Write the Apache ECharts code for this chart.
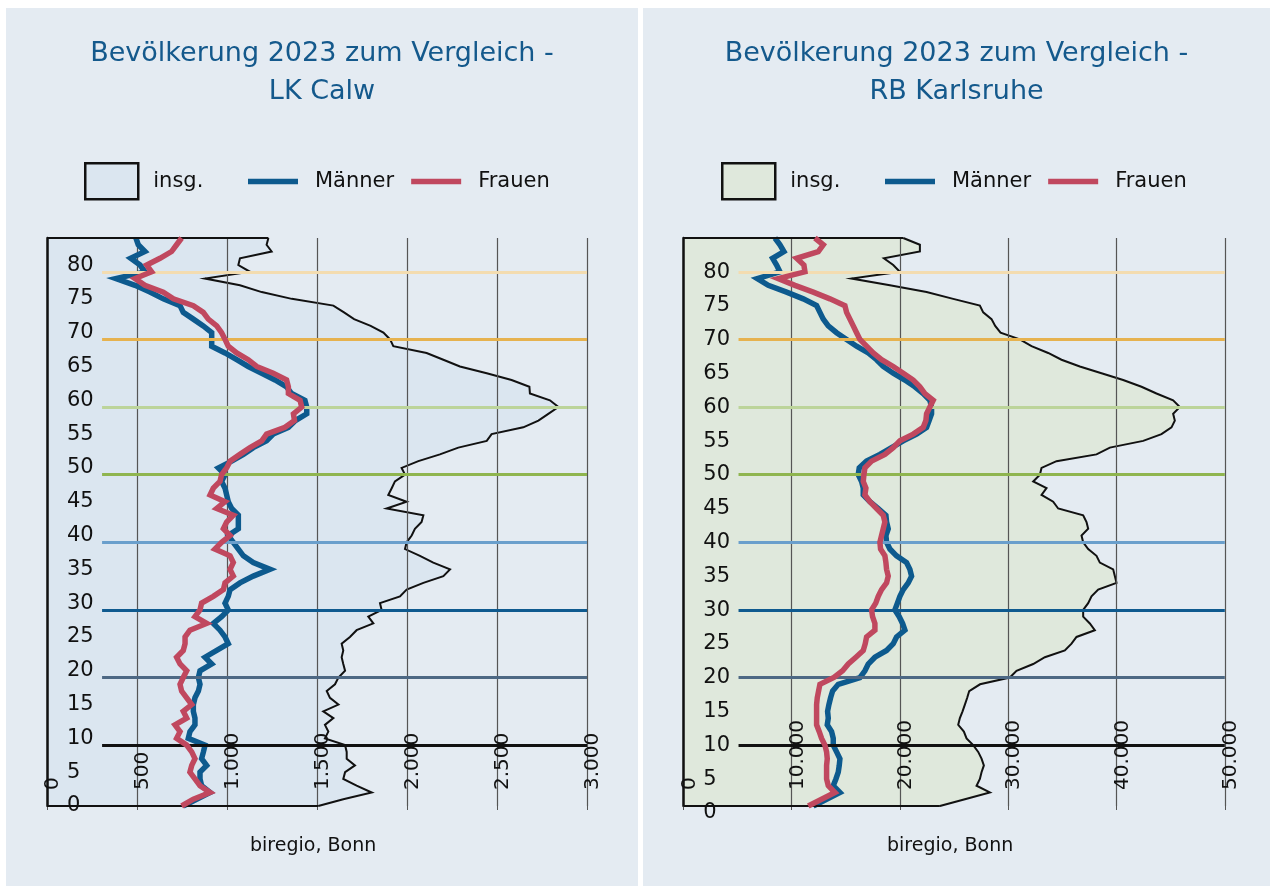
<!DOCTYPE html>
<html>
<head>
<meta charset="utf-8">
<title>Bevölkerung 2023 zum Vergleich</title>
<script src="https://cdn.jsdelivr.net/npm/echarts@6/dist/echarts.min.js"></script>
<style>
    html, body { margin: 0; padding: 0; background: #ffffff; }
    body { width: 1270px; height: 886px; position: relative; overflow: hidden; }
    .panel { position: absolute; top: 8px; height: 878px; background: #e4ebf2; }
    #calw { left: 6px; width: 632px; }
    #karlsruhe { left: 643px; width: 627px; }
</style>
</head>
<body>
<div id="calw" class="panel"></div>
<div id="karlsruhe" class="panel"></div>
<script>
// Alter 0 bis 84 (Kategorien der y-Achse)
const ages = Array.from({ length: 85 }, (_, i) => String(i));

// LK Calw, Personen je Altersjahr
const calwInsg = [
    1507, 1646, 1804, 1720, 1646, 1656, 1711, 1665, 1665, 1656,
    1544, 1563, 1544, 1591, 1535, 1619, 1572, 1554, 1600, 1619,
    1656, 1646, 1637, 1646, 1637, 1683, 1720, 1813, 1785, 1859,
    1850, 1961, 1998, 2091, 2202, 2239, 2146, 2072, 1989, 1998,
    2026, 2044, 2081, 2091, 1887, 1998, 1896, 1915, 1933, 1989,
    1970, 2063, 2183, 2285, 2443, 2470, 2646, 2730, 2785, 2841,
    2794, 2683, 2680, 2581, 2443, 2294, 2202, 2109, 1924, 1906,
    1869, 1798, 1706, 1650, 1591, 1360, 1193, 1072, 878, 1128,
    1063, 1072, 1248, 1220, 1230
];
const calwMaenner = [
    757, 831, 906, 859, 850, 850, 887, 859, 869, 878,
    785, 794, 822, 822, 813, 813, 822, 841, 850, 841,
    850, 915, 878, 943, 1007, 989, 961, 924, 970, 1007,
    989, 1007, 1017, 1072, 1146, 1239, 1146, 1091, 1063, 1035,
    1007, 1063, 1063, 1063, 1026, 1007, 998, 989, 970, 989,
    952, 1026, 1091, 1146, 1220, 1257, 1341, 1380, 1443, 1443,
    1433, 1359, 1331, 1267, 1193, 1118, 1054, 989, 915, 915,
    915, 868, 813, 757, 739, 646, 572, 489, 383, 544,
    517, 465, 544, 507, 494
];
const calwFrauen = [
    748, 813, 906, 850, 822, 794, 804, 822, 804, 776,
    720, 739, 711, 776, 757, 804, 776, 748, 739, 757,
    776, 739, 720, 757, 767, 767, 794, 887, 822, 850,
    859, 924, 980, 989, 1035, 1017, 1035, 1017, 933, 970,
    1017, 980, 998, 1035, 943, 989, 906, 924, 961, 970,
    998, 1017, 1072, 1128, 1193, 1220, 1322, 1375, 1369, 1415,
    1406, 1341, 1341, 1331, 1257, 1165, 1118, 1054, 1007, 989,
    970, 943, 896, 868, 813, 702, 646, 544, 489, 581,
    554, 628, 692, 720, 748
];

// RB Karlsruhe, Personen je Altersjahr
const karlsruheInsg = [
    23692, 26000, 28308, 27077, 27385, 27538, 27754, 27538, 27231, 26769,
    26154, 25908, 25385, 25538, 25785, 26000, 26215, 26400, 27400, 30154,
    30769, 32308, 33385, 35231, 35846, 36308, 38000, 37538, 36923, 36923,
    37385, 37692, 38308, 40000, 39846, 39692, 38462, 38154, 37385, 36923,
    36769, 37385, 37231, 36923, 34615, 34154, 33077, 33538, 32308, 32923,
    33077, 34462, 38154, 39385, 42462, 44154, 45077, 45385, 45231, 45846,
    45231, 43692, 42308, 40615, 38615, 36615, 34923, 33692, 32154, 31077,
    29292, 28800, 28462, 27692, 27385, 24923, 22462, 19077, 15538, 20000,
    19385, 18523, 21846, 21846, 20308
];
const karlsruheMaenner = [
    12000, 13231, 14462, 13846, 14092, 14308, 14400, 14462, 14154, 13846,
    13846, 13692, 13292, 13385, 13323, 13446, 13600, 13785, 14308, 16308,
    16769, 17077, 17692, 18769, 19385, 19692, 20462, 20246, 19938, 19538,
    19770, 20000, 20308, 20769, 21077, 20923, 20615, 19692, 19077, 18769,
    18708, 18923, 18769, 18708, 18000, 17231, 16615, 16615, 16462, 16154,
    16246, 16923, 18154, 19231, 20308, 21538, 22462, 22700, 22923, 22923,
    22769, 22154, 21385, 20462, 19385, 18462, 17846, 17077, 16000, 15077,
    14154, 13385, 12923, 12615, 12308, 11077, 9538, 7846, 6831, 8923,
    8615, 8246, 9292, 8923, 8462
];
const karlsruheFrauen = [
    11538, 12769, 14000, 13385, 13231, 13231, 13231, 13292, 13231, 13077,
    12769, 12554, 12308, 12308, 12308, 12308, 12369, 12492, 12615, 13908,
    14708, 15231, 15938, 16615, 16800, 16923, 17692, 17692, 17477, 17385,
    17770, 18000, 18308, 18769, 18923, 18769, 18708, 18615, 18215, 18154,
    18308, 18462, 18615, 18462, 17846, 17231, 16769, 16862, 16615, 16677,
    16769, 17385, 18615, 19385, 20000, 21231, 22154, 22400, 22462, 22769,
    23077, 22308, 21846, 21231, 20308, 19385, 18308, 17538, 16923, 16308,
    16000, 15692, 15385, 15077, 14923, 13538, 12000, 10308, 8769, 11231,
    11138, 10462, 12462, 12923, 12154
];

// Waagerechte Orientierungslinien (je Jahrzehnt)
const refLineAges = [9, 19, 29, 39, 49, 59, 69, 79];
const refLineColors = ['#111111', '#4d6884', '#0f5a8f', '#6a9fcc', '#8fb54f', '#bcd49a', '#e6b24f', '#f3dcb0'];
const refLineStartFrac = 0.102;

const fontFamily = 'DejaVu Sans';

function germanNumber(v) {
    return String(v).replace(/\B(?=(\d{3})+(?!\d))/g, '.');
}

function makeOption(cfg) {
    const lastAge = ages.length - 1;

    // Linien pro Jahrzehnt + obere/untere Kante der Fläche
    const markData = refLineAges.map((age, i) => {
        const style = { color: refLineColors[i], width: 3, type: 'solid' };
        return [
            { coord: [cfg.xMax * refLineStartFrac, age], lineStyle: style },
            { coord: [cfg.xMax, age], lineStyle: style }
        ];
    });
    const edgeStyle = { color: '#111111', width: 2, type: 'solid' };
    markData.push([{ coord: [0, 0], lineStyle: edgeStyle }, { coord: [cfg.insg[0], 0], lineStyle: edgeStyle }]);
    markData.push([{ coord: [0, lastAge], lineStyle: edgeStyle }, { coord: [cfg.insg[lastAge], lastAge], lineStyle: edgeStyle }]);

    return {
        animation: false,
        textStyle: { fontFamily: fontFamily },
        title: [
            {
                text: cfg.title,
                left: 'center',
                top: 27,
                padding: 0,
                textStyle: { fontSize: 27, fontWeight: 'normal', color: '#14598c', lineHeight: 38, fontFamily: fontFamily }
            },
            {
                text: 'biregio, Bonn',
                left: 244,
                top: 829,
                padding: 0,
                textStyle: { fontSize: 19, fontWeight: 'normal', color: '#111111', fontFamily: fontFamily }
            }
        ],
        legend: [
            {
                left: 78,
                top: 154,
                padding: 0,
                itemWidth: 53,
                itemHeight: 36,
                icon: 'rect',
                selectedMode: false,
                textStyle: { fontSize: 21, color: '#111111', padding: [0, 0, 0, 10], fontFamily: fontFamily },
                data: [{ name: 'insg.', itemStyle: { color: cfg.fill, borderColor: '#111111', borderWidth: 2.5 } }]
            },
            {
                left: 242,
                top: 163,
                padding: 0,
                itemWidth: 50,
                itemHeight: 5.5,
                itemGap: 17,
                icon: 'rect',
                selectedMode: false,
                textStyle: { fontSize: 21, color: '#111111', padding: [0, 0, 0, 12], fontFamily: fontFamily },
                data: [
                    { name: 'Männer', itemStyle: { borderWidth: 0 } },
                    { name: 'Frauen', itemStyle: { borderWidth: 0 } }
                ]
            }
        ],
        grid: { left: cfg.gridLeft, top: 230, width: cfg.gridWidth, height: 568 },
        xAxis: {
            type: 'value',
            min: 0,
            max: cfg.xMax,
            interval: cfg.xStep,
            z: 3,
            axisLine: { show: false },
            axisTick: { show: true, length: 4, lineStyle: { color: '#555555' } },
            splitLine: { show: true, lineStyle: { color: '#555555', width: 1.2 } },
            axisLabel: {
                inside: true,
                rotate: 90,
                margin: 16,
                verticalAlign: 'top',
                lineHeight: 12,
                fontSize: 20,
                color: '#111111',
                showMinLabel: true,
                showMaxLabel: true,
                formatter: germanNumber
            }
        },
        yAxis: {
            type: 'category',
            data: ages,
            boundaryGap: false,
            z: 3,
            axisLine: { show: true, lineStyle: { color: '#111111', width: 2.5 } },
            axisTick: { show: false },
            splitLine: { show: false },
            axisLabel: Object.assign({
                inside: true,
                margin: 20,
                interval: 4,
                fontSize: 21,
                color: '#111111'
            }, cfg.yLabelShift)
        },
        series: [
            {
                name: 'insg.',
                type: 'line',
                data: cfg.insg,
                symbol: 'none',
                z: 2,
                lineStyle: { color: '#111111', width: 2, join: 'miter' },
                itemStyle: { color: cfg.fill },
                areaStyle: { color: cfg.fill, opacity: 1 },
                markLine: {
                    silent: true,
                    animation: false,
                    symbol: ['none', 'none'],
                    label: { show: false },
                    lineStyle: { type: 'solid' },
                    data: markData
                }
            },
            {
                name: 'Männer',
                type: 'line',
                data: cfg.maenner,
                symbol: 'none',
                z: 4,
                itemStyle: { color: '#0d5a8e' },
                lineStyle: { color: '#0d5a8e', width: 5.5, join: 'miter', miterLimit: 4 }
            },
            {
                name: 'Frauen',
                type: 'line',
                data: cfg.frauen,
                symbol: 'none',
                z: 5,
                itemStyle: { color: '#c0485f' },
                lineStyle: { color: '#c0485f', width: 5.5, join: 'miter', miterLimit: 4 }
            }
        ]
    };
}

const charts = [
    {
        el: 'calw',
        title: 'Bevölkerung 2023 zum Vergleich -\nLK Calw',
        fill: '#dbe6f0',
        xMax: 3000,
        xStep: 500,
        gridLeft: 41,
        gridWidth: 540,
        yLabelShift: {},
        insg: calwInsg,
        maenner: calwMaenner,
        frauen: calwFrauen
    },
    {
        el: 'karlsruhe',
        title: 'Bevölkerung 2023 zum Vergleich -\nRB Karlsruhe',
        fill: '#dfe8dc',
        xMax: 50000,
        xStep: 10000,
        gridLeft: 40.3,
        gridWidth: 541.5,
        yLabelShift: { verticalAlign: 'top', lineHeight: 14 },
        insg: karlsruheInsg,
        maenner: karlsruheMaenner,
        frauen: karlsruheFrauen
    }
];

charts.forEach(cfg => {
    const chart = echarts.init(document.getElementById(cfg.el), null, { renderer: 'canvas' });
    chart.setOption(makeOption(cfg));
});
</script>
</body>
</html>
